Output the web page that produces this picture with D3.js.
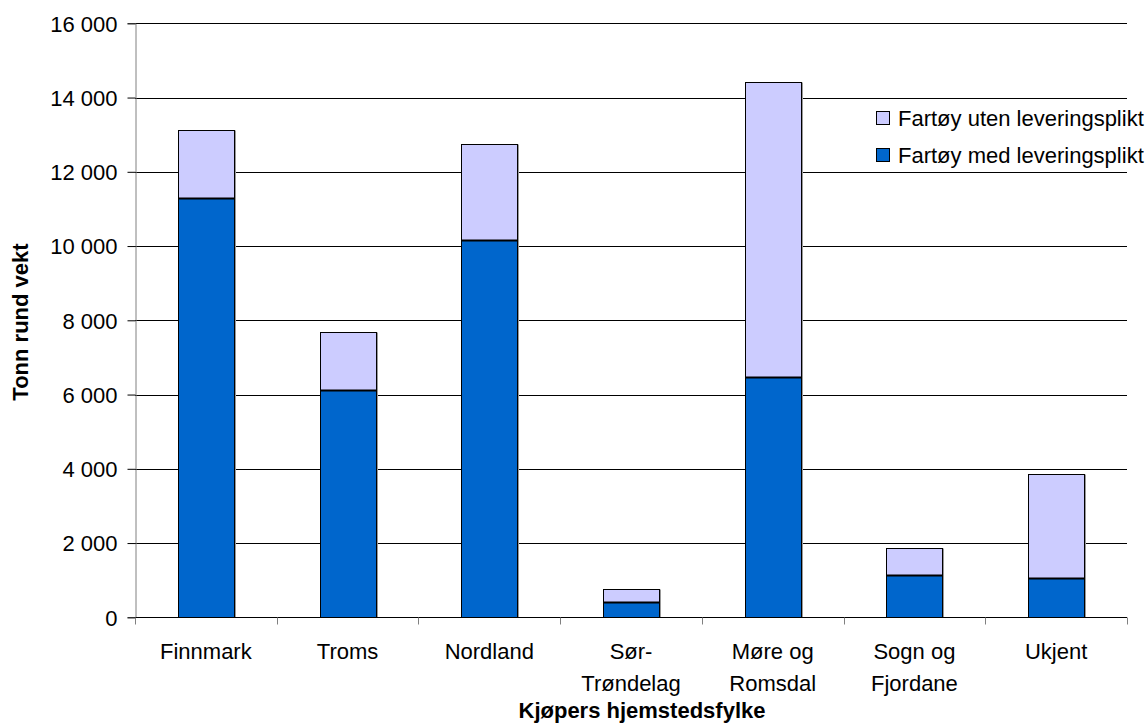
<!DOCTYPE html>
<html>
<head>
<meta charset="utf-8">
<script src="https://cdn.jsdelivr.net/npm/d3@7"></script>
<style>
  html, body { margin: 0; padding: 0; background: #fff; }
  svg { display: block; font-family: "Liberation Sans", Arial, sans-serif; }
</style>
</head>
<body>
<svg id="chart" width="1147" height="727"></svg>
<script>
// Landings by buyer's home county, tonnes round weight
const categories = ["Finnmark", "Troms", "Nordland", "Sør-Trøndelag", "Møre og Romsdal", "Sogn og Fjordane", "Ukjent"];
const tickLines = [["Finnmark"], ["Troms"], ["Nordland"], ["Sør-", "Trøndelag"], ["Møre og", "Romsdal"], ["Sogn og", "Fjordane"], ["Ukjent"]];
const medLeveringsplikt = [11300, 6120, 10170, 400, 6470, 1140, 1050];
const totalt = [13120, 7680, 12740, 750, 14420, 1860, 3850];
const seriesNames = ["Fartøy uten leveringsplikt", "Fartøy med leveringsplikt"];
const seriesColors = { med: "#0066CC", uten: "#CCCCFF" };
const yTicks = [0, 2000, 4000, 6000, 8000, 10000, 12000, 14000, 16000];
const yTitle = "Tonn rund vekt";
const xTitle = "Kjøpers hjemstedsfylke";

const svg = d3.select("#chart");
const m = { left: 135, right: 1127, top: 23.3, bottom: 617.3 };

const x = d3.scaleBand().domain(categories).range([m.left, m.right]).paddingInner(0.605).paddingOuter(0.3025);
const xEdge = d3.scaleBand().domain(categories).range([m.left, m.right]).padding(0);
const y = d3.scaleLinear().domain([0, 16000]).range([m.bottom, m.top]);

const nf = d3.formatLocale({ decimal: ",", thousands: "\u00a0", grouping: [3], currency: ["", " kr"] }).format(",d");

// horizontal gridlines
svg.append("g").selectAll("line").data(yTicks.filter(d => d > 0)).join("line")
  .attr("x1", m.left).attr("x2", m.right)
  .attr("y1", d => Math.round(y(d)) + 0.5).attr("y2", d => Math.round(y(d)) + 0.5)
  .attr("stroke", "#000").attr("stroke-width", 1);

// y axis
const yAxis = d3.axisLeft(y).tickValues(yTicks).tickSize(8).tickPadding(10).tickFormat(nf);
const gy = svg.append("g").attr("transform", `translate(${m.left + 0.5},0)`).call(yAxis);
gy.select(".domain").attr("stroke", "#808080");
gy.selectAll(".tick line").attr("stroke", "#000");
gy.selectAll(".tick text").attr("font-size", 22).attr("fill", "#000")
  .attr("font-family", "Liberation Sans, Arial, sans-serif").attr("dy", "0.35em");

// stacked bars
const gBars = svg.append("g");
categories.forEach((c, i) => {
  const bx = Math.round(x(c)) + 0.5, bw = Math.round(x.bandwidth());
  const yTop = Math.round(y(totalt[i])) + 0.5;
  const yMid = Math.round(y(medLeveringsplikt[i])) + 0.5;
  const y0 = Math.round(y(0)) + 0.5;
  gBars.append("rect")
    .attr("x", bx).attr("width", bw)
    .attr("y", yTop).attr("height", yMid - yTop)
    .attr("fill", seriesColors.uten).attr("stroke", "#000").attr("stroke-width", 1);
  gBars.append("rect")
    .attr("x", bx).attr("width", bw)
    .attr("y", yMid).attr("height", y0 - yMid)
    .attr("fill", seriesColors.med).attr("stroke", "#000").attr("stroke-width", 1);
  // boundary between the two segments
  gBars.append("line")
    .attr("x1", bx).attr("x2", bx + bw)
    .attr("y1", yMid).attr("y2", yMid)
    .attr("stroke", "#000").attr("stroke-width", 2);
  // light shading along the right edge
  gBars.append("line")
    .attr("x1", bx + bw + 1).attr("x2", bx + bw + 1)
    .attr("y1", yTop).attr("y2", y0)
    .attr("stroke", "#999").attr("stroke-width", 1);
});

// x axis
const gx = svg.append("g").attr("transform", `translate(0,${Math.round(m.bottom) + 0.5})`);
gx.append("line").attr("x1", m.left).attr("x2", m.right).attr("stroke", "#000");
const edges = categories.map(c => xEdge(c)).concat([m.right]);
gx.selectAll("line.tk").data(edges).join("line").attr("class", "tk")
  .attr("x1", d => Math.round(d) + 0.5).attr("x2", d => Math.round(d) + 0.5)
  .attr("y1", 0).attr("y2", 7).attr("stroke", "#808080");
const lbl = gx.selectAll("text").data(categories).join("text")
  .attr("text-anchor", "middle").attr("font-size", 22).attr("fill", "#000")
  .attr("transform", c => `translate(${xEdge(c) + xEdge.bandwidth() / 2},41)`);
lbl.each(function(c, i) {
  d3.select(this).selectAll("tspan").data(tickLines[i]).join("tspan")
    .attr("x", 0).attr("y", (d, j) => j * 32).text(d => d);
});

// axis titles
svg.append("text").attr("x", 642).attr("y", 718).attr("text-anchor", "middle")
  .attr("font-size", 22).attr("font-weight", "bold").text(xTitle);
svg.append("text").attr("transform", "translate(28,322) rotate(-90)").attr("text-anchor", "middle")
  .attr("font-size", 22).attr("font-weight", "bold").text(yTitle);

// legend
const legendItems = [
  { name: seriesNames[0], color: seriesColors.uten },
  { name: seriesNames[1], color: seriesColors.med }
];
const gl = svg.append("g").attr("transform", "translate(876,111)");
legendItems.forEach((d, i) => {
  const g = gl.append("g").attr("transform", `translate(0,${i * 37})`);
  g.append("rect").attr("x", 0.5).attr("y", 0.5).attr("width", 13).attr("height", 13)
    .attr("fill", d.color).attr("stroke", "#000").attr("stroke-width", 1);
  g.append("text").attr("x", 22).attr("y", 15).attr("font-size", 22).attr("fill", "#000").text(d.name);
});
</script>
</body>
</html>
